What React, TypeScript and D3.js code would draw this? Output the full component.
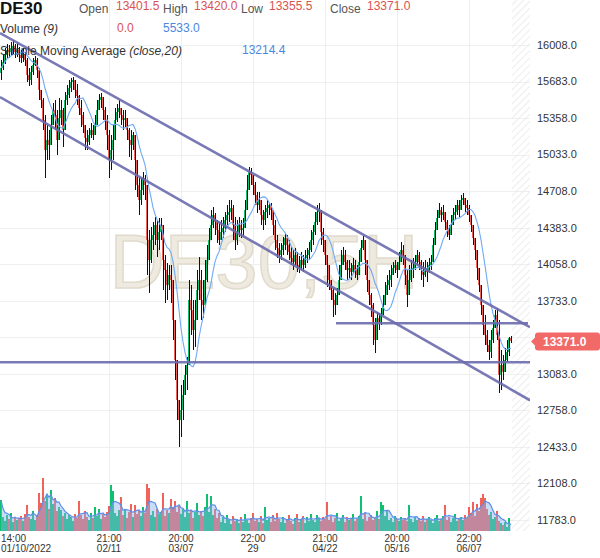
import React from 'react';
import * as d3 from 'd3';

// ---- data (DE30, 5H candles, resampled: one entry per 2px slot) ----
const firstOpen = 15760;
const closes = [
  15803, 15856, 15918, 15963, 15945, 15981, 15999, 15945, 15963, 15918,
  15892, 15927, 15874, 15740, 15696, 15767, 15830, 15874, 15785, 15607,
  15518, 15340, 15073, 15162, 15117, 15295, 15429, 15384, 15162, 15358,
  15429, 15251, 15518, 15562, 15625, 15678, 15696, 15607, 15554, 15447,
  15384, 15295, 15180, 15144, 15206, 15251, 15206, 15295, 15429, 15518,
  15545, 15429, 15340, 15206, 14984, 15073, 15162, 15340, 15411, 15447,
  15384, 15340, 15358, 15251, 15162, 15117, 15206, 14984, 14761, 14628,
  14717, 14824, 14761, 14272, 14094, 14272, 14316, 14405, 14272, 14343,
  14405, 14094, 14005, 13871, 13960, 13916, 13560, 13204, 12848, 12670,
  12759, 12892, 13070, 13159, 13738, 13649, 13471, 13560, 13827, 13916,
  13738, 13693, 13916, 14094, 14272, 14405, 14494, 14432, 14361, 14272,
  14343, 14379, 14450, 14494, 14521, 14557, 14405, 14272, 14343, 14405,
  14361, 14379, 14539, 14717, 14877, 14850, 14761, 14672, 14583, 14628,
  14494, 14450, 14521, 14557, 14583, 14539, 14405, 14272, 14201, 14138,
  14183, 14227, 14290, 14227, 14165, 14112, 14076, 14138, 14049, 14023,
  14094, 14049, 14112, 14138, 14183, 14272, 14343, 14432, 14521, 14539,
  14343, 14272, 14138, 14049, 13916, 13827, 13738, 13693, 13782, 13916,
  14049, 14138, 14076, 14005, 14023, 13987, 14049, 14005, 13960, 14076,
  14201, 14272, 14094, 13916, 13782, 13693, 13515, 13382, 13578, 13542,
  13604, 13693, 13782, 13871, 13916, 13960, 14023, 14049, 14005, 14076,
  14183, 14138, 13960, 13782, 13916, 14005, 14023, 14076, 14138, 14076,
  14005, 13960, 14023, 13987, 14049, 14076, 14227, 14361, 14468, 14539,
  14494, 14521, 14432, 14361, 14316, 14405, 14494, 14521, 14583, 14539,
  14628, 14646, 14583, 14557, 14494, 14405, 14290, 14183, 14023, 13871,
  13693, 13515, 13426, 13337, 13275, 13382, 13489, 13604, 13426, 13070,
  13159, 13097, 13204, 13275, 13401.5, 13371
];
const highs = [
  15874, 15918, 15981, 16016, 16008, 16034, 16052, 16016, 16025, 15990,
  15963, 15981, 15945, 15892, 15803, 15821, 15892, 15910, 15892, 15803,
  15607, 15536, 15384, 15295, 15251, 15384, 15491, 15518, 15429, 15536,
  15518, 15447, 15589, 15651, 15696, 15714, 15723, 15696, 15660, 15562,
  15518, 15411, 15269, 15251, 15269, 15313, 15295, 15384, 15518, 15571,
  15580, 15518, 15456, 15384, 15251, 15206, 15295, 15447, 15482, 15518,
  15447, 15429, 15429, 15340, 15269, 15251, 15233, 15198, 14984, 14824,
  14824, 14877, 14850, 14744, 14361, 14388, 14432, 14477, 14450, 14468,
  14468, 14227, 14138, 14067, 14049, 14049, 13738, 13426, 13159, 12848,
  12981, 13026, 13159, 13231, 13916, 13871, 13738, 13738, 14005, 14121,
  14005, 13916, 14094, 14227, 14379, 14539, 14566, 14512, 14450, 14432,
  14450, 14477, 14521, 14583, 14628, 14628, 14583, 14477, 14450, 14477,
  14450, 14468, 14628, 14850, 14922, 14913, 14850, 14788, 14699, 14699,
  14583, 14539, 14583, 14628, 14601, 14601, 14539, 14450, 14316, 14245,
  14245, 14299, 14334, 14316, 14272, 14210, 14183, 14201, 14165, 14130,
  14165, 14138, 14183, 14201, 14254, 14361, 14405, 14521, 14583, 14601,
  14539, 14379, 14254, 14138, 14049, 13898, 13845, 13800, 13845, 14049,
  14183, 14210, 14183, 14094, 14094, 14067, 14112, 14094, 14049, 14183,
  14272, 14308, 14227, 14049, 13916, 13800, 13711, 13578, 13631, 13622,
  13667, 13782, 13898, 13960, 14005, 14049, 14076, 14094, 14076, 14165,
  14254, 14227, 14138, 14005, 14049, 14094, 14112, 14138, 14183, 14165,
  14094, 14076, 14094, 14076, 14112, 14138, 14290, 14432, 14539, 14601,
  14566, 14583, 14521, 14450, 14405, 14494, 14557, 14583, 14628, 14628,
  14672, 14690, 14646, 14628, 14583, 14494, 14379, 14272, 14183, 14023,
  13827, 13693, 13604, 13471, 13382, 13471, 13560, 13649, 13667, 13560,
  13293, 13248, 13311, 13382, 13410, 13420
];
const lows = [
  15696, 15785, 15838, 15892, 15892, 15918, 15927, 15892, 15901, 15856,
  15847, 15856, 15821, 15678, 15643, 15651, 15740, 15821, 15714, 15518,
  15447, 15251, 14824, 14984, 14984, 15162, 15295, 15251, 15028, 15295,
  15295, 15100, 15411, 15473, 15536, 15589, 15607, 15536, 15473, 15384,
  15278, 15224, 15073, 15073, 15117, 15180, 15162, 15206, 15358, 15429,
  15447, 15340, 15251, 15073, 14824, 14895, 14984, 15162, 15322, 15358,
  15295, 15251, 15278, 15162, 15011, 14984, 15073, 14717, 14655, 14494,
  14583, 14672, 14628, 13960, 13800, 14067, 14183, 14227, 14121, 14183,
  14272, 13827, 13711, 13738, 13827, 13711, 13382, 13026, 12670, 12430,
  12519, 12670, 12892, 12937, 13159, 13426, 13293, 13320, 13560, 13738,
  13560, 13578, 13738, 13898, 14094, 14316, 14379, 14316, 14245, 14227,
  14272, 14290, 14343, 14405, 14432, 14450, 14272, 14183, 14227, 14299,
  14290, 14308, 14405, 14583, 14761, 14761, 14672, 14583, 14512, 14539,
  14405, 14361, 14405, 14468, 14494, 14450, 14316, 14183, 14112, 14067,
  14094, 14138, 14183, 14138, 14094, 14049, 14005, 14049, 13987, 13978,
  14005, 13987, 14023, 14067, 14094, 14165, 14227, 14316, 14405, 14432,
  14227, 14165, 14049, 13854, 13827, 13738, 13587, 13604, 13738, 13827,
  13960, 14049, 14005, 13916, 13934, 13916, 13978, 13934, 13916, 14005,
  14138, 14183, 13960, 13809, 13693, 13587, 13337, 13266, 13471, 13471,
  13515, 13604, 13693, 13782, 13827, 13854, 13960, 13978, 13934, 14005,
  14076, 14049, 13871, 13676, 13827, 13898, 13934, 14005, 14049, 14005,
  13916, 13854, 13943, 13898, 13978, 14005, 14138, 14272, 14405, 14477,
  14432, 14450, 14361, 14299, 14272, 14343, 14405, 14450, 14494, 14477,
  14557, 14583, 14521, 14494, 14432, 14343, 14227, 14094, 13916, 13809,
  13604, 13426, 13337, 13275, 13204, 13222, 13355, 13515, 13382, 12910,
  12937, 13026, 13115, 13186, 13240, 13355.5
];
const volumes = [
  46500, 21000, 15000, 24000, 18000, 27000, 13500, 21000, 16500, 19500,
  22500, 15000, 25500, 39000, 21000, 18000, 30000, 16500, 24000, 57000,
  42000, 79500, 45000, 54000, 33000, 61500, 40500, 49500, 30000, 36000,
  31500, 22500, 27000, 18000, 24000, 21000, 15000, 25500, 19500, 45000,
  24000, 18000, 30000, 21000, 16500, 27000, 19500, 36000, 22500, 33000,
  18000, 25500, 21000, 28500, 37500, 69000, 60000, 27000, 22500, 31500,
  51000, 24000, 33000, 19500, 28500, 40500, 21000, 39000, 25500, 31500,
  22500, 36000, 27000, 70500, 64500, 24000, 30000, 21000, 33000, 25500,
  28500, 57000, 22500, 31500, 27000, 48000, 36000, 45000, 28500, 39000,
  25500, 33000, 21000, 45000, 27000, 31500, 19500, 28500, 42000, 24000,
  30000, 22500, 36000, 55500, 28500, 52500, 24000, 33000, 19500, 27000,
  13500, 21000, 12000, 24000, 16500, 10500, 22500, 15000, 18000, 12000,
  21000, 13500, 25500, 16500, 12000, 19500, 27000, 15000, 18000, 13500,
  22500, 12000, 36000, 16500, 19500, 13500, 24000, 15000, 27000, 18000,
  13500, 21000, 12000, 18000, 24000, 15000, 10500, 19500, 25500, 13500,
  18000, 22500, 12000, 21000, 15000, 25500, 16500, 13500, 24000, 19500,
  15000, 21000, 18000, 43500, 16500, 22500, 13500, 19500, 27000, 15000,
  18000, 24000, 13500, 21000, 16500, 19500, 25500, 15000, 18000, 22500,
  52500, 18000, 27000, 15000, 21000, 24000, 16500, 19500, 30000, 18000,
  43500, 39000, 22500, 31500, 16500, 19500, 13500, 22500, 18000, 15000,
  21000, 16500, 19500, 15000, 39000, 18000, 13500, 21000, 16500, 19500,
  15000, 22500, 13500, 18000, 21000, 16500, 12000, 19500, 24000, 15000,
  18000, 22500, 39000, 16500, 21000, 13500, 19500, 25500, 15000, 18000,
  21000, 16500, 24000, 19500, 36000, 27000, 43500, 22500, 40500, 30000,
  49500, 55500, 49500, 33000, 24000, 28500, 18000, 21000, 30000, 15000,
  12000, 9000, 13500, 6000, 19500, 0
];

const priceTicks = [16008, 15683, 15358, 15033, 14708, 14383, 14058, 13733, 13408, 13083, 12758, 12433, 12108, 11783];
const timeTickIdx = [0, 54, 90, 126, 162, 198, 234];
const timeTickTime = ['14:00', '21:00', '20:00', '22:00', '21:00', '20:00', '22:00'];
const timeTickDate = ['01/10/2022', '02/11', '03/07', '29', '04/22', '05/16', '06/07'];

// drawn lines: [index0, price0, index1, price1]
const trendLines = [
  [-0.5, 16114, 264.5, 13498],
  [-0.5, 15545, 264.5, 12848],
  [167.5, 13533, 263.5, 13533],
  [-0.5, 13186, 264.5, 13186],
];

const SMA_PERIOD = 10; // 20 original candles = 10 resampled slots
const VOL_SMA_PERIOD = 5; // 9 original candles ~ 5 resampled slots
const smaLegend = '13214.4';
const volLegend = '0.0';
const volSmaLegend = '5533.0';

const GREEN = '#10c070';
const RED = '#f0625a';
const FONT = "'Liberation Sans', Arial, sans-serif";

function movingAvg(arr: number[], n: number) {
  return arr.map((_, i) => d3.mean(arr.slice(Math.max(0, i - n + 1), i + 1)) as number);
}

export default function App() {
  const W = 600, H = 558;
  const plotRight = 530;
  const volBase = 531;
  const x = d3.scaleLinear().domain([-0.5, 264.5]).range([0, plotRight]);
  const y = d3.scaleLinear().domain([11783, 16008]).range([520, 45]);
  const yv = d3.scaleLinear().domain([0, 80000]).range([volBase, volBase - 53.3]);

  const opens = closes.map((c, i) => (i === 0 ? firstOpen : closes[i - 1]));
  const sma = movingAvg(closes, SMA_PERIOD);
  const vsma = movingAvg(volumes, VOL_SMA_PERIOD);
  const n = closes.length;

  const smaLine = d3.line<number>().x((d, i) => x(i)).y(d => y(d))(sma) || '';
  const vArea = d3.area<number>().x((d, i) => x(i)).y0(volBase).y1(d => yv(d))(vsma) || '';
  const vLine = d3.line<number>().x((d, i) => x(i)).y(d => yv(d))(vsma) || '';

  const last = n - 1;
  const lastClose = closes[last];
  const yc = y(lastClose);
  const hatchX = x(n - 0.5);

  return (
    <svg width={W} height={H} style={{ position: 'absolute', left: 0, top: 0, background: '#fff' }} fontFamily={FONT}>
      <defs>
        <pattern id="hatch" width="5" height="5" patternUnits="userSpaceOnUse" patternTransform="rotate(45)">
          <line x1="0" y1="0" x2="0" y2="5" stroke="#e6e6e6" strokeWidth="1.4" />
        </pattern>
        <clipPath id="plot"><rect x={0} y={0} width={plotRight} height={volBase} /></clipPath>
      </defs>
      <rect x={0} y={0} width={W} height={H} fill="#fff" />
      {/* grid */}
      {priceTicks.map(t => (
        <line key={'g' + t} x1={0} x2={plotRight} y1={Math.round(y(t)) + 0.5} y2={Math.round(y(t)) + 0.5} stroke="#efefef" />
      ))}
      {timeTickIdx.slice(1).map(i => (
        <line key={'v' + i} x1={Math.round(x(i)) + 0.5} x2={Math.round(x(i)) + 0.5} y1={0} y2={volBase} stroke="#efefef" />
      ))}
      <rect x={hatchX} y={0} width={plotRight - hatchX} height={volBase} fill="url(#hatch)" />
      {/* watermark */}
      <text x={264} y={288} fontSize={76} textAnchor="middle" fill="#eeeadf" stroke="#e0dbcc" strokeWidth={1.5} fontFamily={FONT}>DE30,5H</text>
      <g clipPath="url(#plot)">
        {/* volume */}
        <g shapeRendering="crispEdges">
          {volumes.map((v, i) => (
            <rect key={'vb' + i} x={x(i) - 1} y={yv(v)} width={1.6} height={volBase - yv(v)}
              fill={closes[i] >= opens[i] ? GREEN : RED} />
          ))}
        </g>
        <path d={vArea} fill="#8ab3ef" fillOpacity={0.45} />
        <path d={vLine} fill="none" stroke="#5d8fe8" strokeWidth={1.2} />
        {/* candles */}
        <g shapeRendering="crispEdges">
          {closes.map((c, i) => {
            const o = opens[i];
            const hi = Math.max(highs[i], o, c);
            const lo = Math.min(lows[i], o, c);
            const cx = x(i);
            const top = y(Math.max(o, c));
            const bh = Math.max(1, Math.abs(y(o) - y(c)));
            return (
              <g key={'c' + i}>
                <rect x={cx} y={y(hi)} width={1} height={Math.max(1, y(lo) - y(hi))} fill="#111" />
                <rect x={cx - 1} y={top} width={1} height={bh} fill={c >= o ? GREEN : RED} />
              </g>
            );
          })}
        </g>
        <path d={smaLine} fill="none" stroke="#6fa9f6" strokeWidth={1.1} />
        {trendLines.map((l, k) => (
          <line key={'t' + k} x1={x(l[0])} y1={y(l[1])} x2={x(l[2])} y2={y(l[3])}
            stroke="#6a6aae" strokeWidth={2.6} strokeOpacity={0.9} />
        ))}
      </g>
      {/* right axis */}
      {priceTicks.map(t => (
        <text key={'yl' + t} x={537} y={y(t)} dy="0.35em" fontSize={11} fill="#333">{t.toFixed(1)}</text>
      ))}
      {/* time axis */}
      {timeTickIdx.map((i, k) => {
        const first = k === 0;
        return (
          <g key={'tl' + k} fontSize={10} fill="#333" textAnchor={first ? 'start' : 'middle'}>
            <text x={first ? 1 : x(i)} y={542}>{timeTickTime[k]}</text>
            <text x={first ? 1 : x(i)} y={552}>{timeTickDate[k]}</text>
          </g>
        );
      })}
      {/* price tag */}
      <path d={`M${plotRight + 1},${yc} L${plotRight + 6},${yc - 5} L${plotRight + 6},${yc + 5} Z`} fill="#f26a68" />
      <rect x={plotRight + 5} y={yc - 9} width={W - plotRight - 5} height={18} rx={3} fill="#f26a68" />
      <text x={543} y={yc} dy="0.36em" fontSize={12} fontWeight="bold" fill="#fff">{lastClose.toFixed(1)}</text>
      {/* legend */}
      <text x={0} y={14} fontSize={17} fontWeight="bold" fill="#111">DE30</text>
      <g fontSize={12}>
        <text x={79} y={13} fill="#555">Open</text>
        <text x={116} y={10} fill="#d9534f">{opens[last].toFixed(1)}</text>
        <text x={163} y={13} fill="#555">High</text>
        <text x={194} y={10} fill="#d9534f">{highs[last].toFixed(1)}</text>
        <text x={241} y={13} fill="#555">Low</text>
        <text x={269} y={10} fill="#d9534f">{lows[last].toFixed(1)}</text>
        <text x={330} y={13} fill="#555">Close</text>
        <text x={367} y={10} fill="#d9534f">{lastClose.toFixed(1)}</text>
        <text x={0} y={33} fill="#333">Volume <tspan fontStyle="italic">(9)</tspan></text>
        <text x={117} y={32} fill="#d9534f">{volLegend}</text>
        <text x={163} y={32} fill="#4a88e0">{volSmaLegend}</text>
        <text x={0} y={55} fill="#333">Simple Moving Average <tspan fontStyle="italic">(close,20)</tspan></text>
        <text x={242} y={54} fill="#4a88e0">{smaLegend}</text>
      </g>
    </svg>
  );
}
